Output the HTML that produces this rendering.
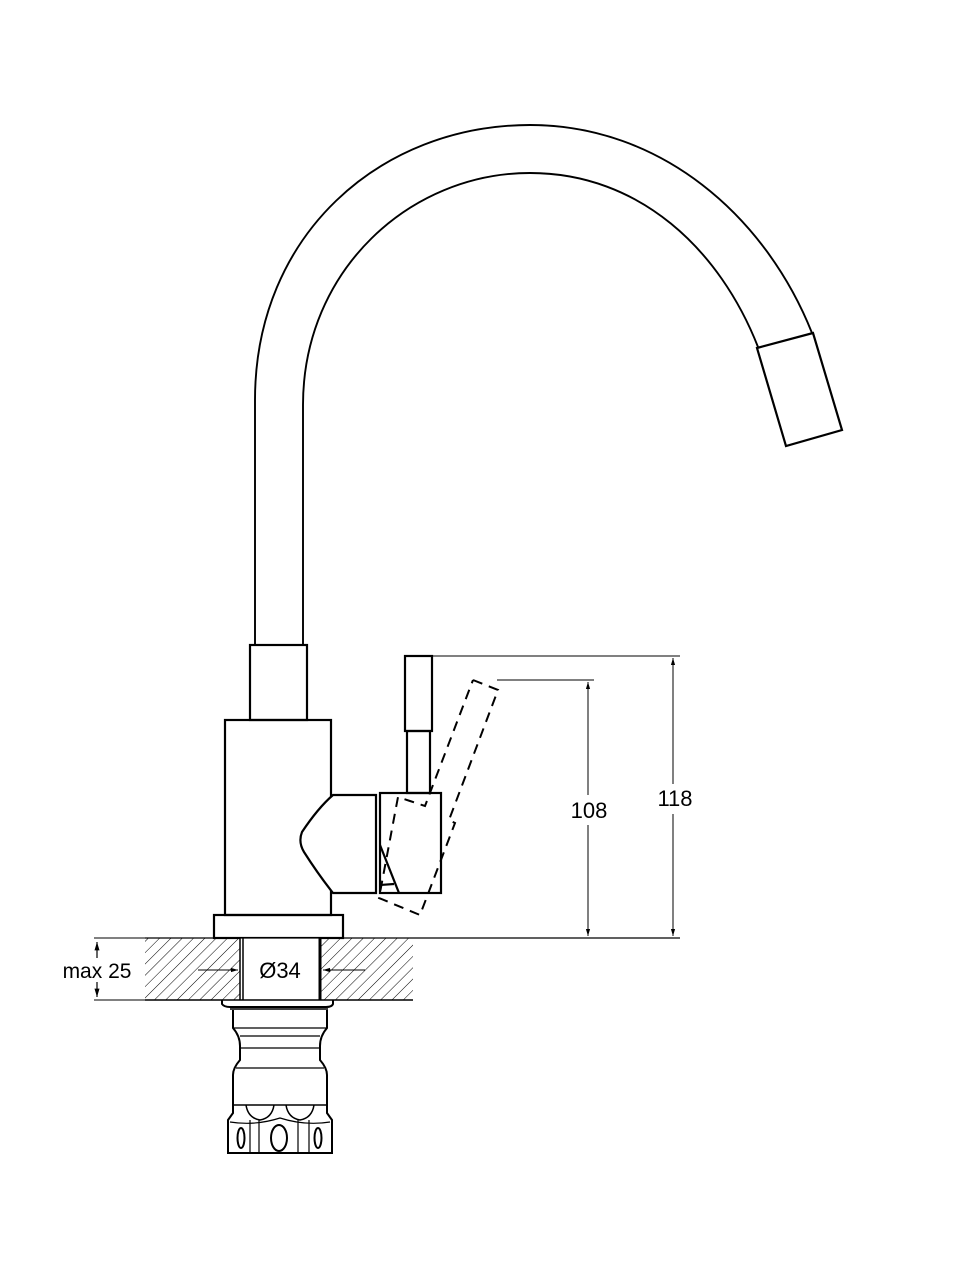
<!DOCTYPE html>
<html><head><meta charset="utf-8"><style>html,body{margin:0;padding:0;background:#fff}svg{display:block}</style></head>
<body>
<svg width="960" height="1280" viewBox="0 0 960 1280" xmlns="http://www.w3.org/2000/svg" font-family="Liberation Sans, Arial, sans-serif">
<defs>
<pattern id="h" patternUnits="userSpaceOnUse" width="8" height="8" patternTransform="rotate(45)">
<line x1="0" y1="0" x2="0" y2="8" stroke="#000" stroke-width="1"/>
</pattern>
<marker id="a" viewBox="0 0 10 10" refX="10" refY="5" markerWidth="7" markerHeight="7" orient="auto-start-reverse"><path d="M0,2 L10,5 L0,8 z" fill="#000"/></marker>
</defs>
<g fill="none" stroke="#000" stroke-width="2.2">
<path d="M255,645 L255,400 C255,235 380,125 530,125 C660,125 765,215 812,333" stroke-width="1.9"/>
<path d="M303,645 L303,405 C303,270 410,173 530,173 C640,173 720,250 758,347" stroke-width="1.9"/>
<polygon points="757,348 813,333 842,430 786,446"/>
<rect x="250" y="645" width="57" height="75"/>
<rect x="225" y="720" width="106" height="195"/>
<rect x="214" y="915" width="129" height="23"/>
<path d="M376,795 L333,795 Q318,808 302,832 Q298,842 304,852 Q318,874 333,893 L376,893 Z" fill="#fff"/>
<rect x="380" y="793" width="61" height="100" fill="#fff"/>
<path d="M380,845 L399,893"/>
<path d="M380,885 L394,884"/>
<rect x="405" y="656" width="27" height="75"/>
<rect x="407" y="731" width="23" height="62"/>
<path d="M473,680 L498,690 L449,820 L455,823 L420,915 L379,898 L398,797 L410,801 L425,806 L473,680" stroke-dasharray="10,7" stroke-width="2"/>
</g>
<rect x="145" y="938" width="268" height="62" fill="url(#h)"/>
<rect x="240" y="938" width="81" height="62" fill="#fff"/>
<g stroke="#000" fill="none">
<line x1="145" y1="938" x2="680" y2="938" stroke-width="1.3"/>
<line x1="145" y1="1000" x2="413" y2="1000" stroke-width="1.6"/>
<line x1="94" y1="938" x2="145" y2="938" stroke-width="1"/>
<line x1="94" y1="1000" x2="145" y2="1000" stroke-width="1"/>
<line x1="240" y1="938" x2="240" y2="1000" stroke-width="1.5"/>
<line x1="243" y1="938" x2="243" y2="1000" stroke-width="1.5"/>
<line x1="320" y1="938" x2="320" y2="1000" stroke-width="3"/>
<line x1="198" y1="970" x2="238" y2="970" stroke-width="1" marker-end="url(#a)"/>
<line x1="365" y1="970" x2="323" y2="970" stroke-width="1" marker-end="url(#a)"/>
<line x1="97" y1="942" x2="97" y2="958" stroke-width="1.2" marker-start="url(#a)"/>
<line x1="97" y1="982" x2="97" y2="997" stroke-width="1.2" marker-end="url(#a)"/>
<line x1="432" y1="656" x2="680" y2="656" stroke-width="1"/>
<line x1="497" y1="680" x2="594" y2="680" stroke-width="1"/>
<line x1="673" y1="658" x2="673" y2="936" stroke-width="1" marker-start="url(#a)" marker-end="url(#a)"/>
<line x1="588" y1="682" x2="588" y2="936" stroke-width="1" marker-start="url(#a)" marker-end="url(#a)"/>
</g>
<rect x="567" y="795" width="42" height="30" fill="#fff"/>
<rect x="652" y="784" width="44" height="30" fill="#fff"/>
<text x="589" y="818" font-size="22" text-anchor="middle">108</text>
<text x="675" y="806" font-size="22" text-anchor="middle">118</text>
<text x="97" y="978" font-size="21" text-anchor="middle" fill="#000">max 25</text>
<text x="280" y="978" font-size="22" text-anchor="middle">Ø34</text>
<g fill="none" stroke="#000" stroke-width="2">
<path d="M222,1000 L222,1004 Q224,1007 230,1007 L326,1007 Q332,1007 333,1004 L333,1000"/>
<line x1="230" y1="1009" x2="328" y2="1009" stroke-width="1.5"/>
<path d="M233,1010 L233,1028 Q240,1036 240,1046 L240,1060 Q233,1068 233,1075 L233,1105 M327,1010 L327,1028 Q320,1036 320,1046 L320,1060 Q327,1068 327,1075 L327,1105"/>
<line x1="234" y1="1028" x2="326" y2="1028" stroke-width="1.2"/>
<line x1="240" y1="1036" x2="320" y2="1036" stroke-width="1.2"/>
<line x1="240" y1="1048" x2="320" y2="1048" stroke-width="1.2"/>
<line x1="236" y1="1068" x2="324" y2="1068" stroke-width="1.2"/>
<line x1="233" y1="1105" x2="327" y2="1105" stroke-width="1.5"/>
<path d="M233,1105 L233,1113 L228,1120 L228,1153 L332,1153 L332,1120 L327,1113 L327,1105"/>
<path d="M246,1105 Q248,1118 260,1120 Q272,1118 274,1105 M286,1105 Q288,1118 300,1120 Q312,1118 314,1105" stroke-width="1.5"/>
<path d="M230,1122 Q255,1126 280,1118 Q305,1126 330,1122" stroke-width="1.2"/>
<line x1="250" y1="1120" x2="250" y2="1153" stroke-width="1.2"/>
<line x1="259" y1="1120" x2="259" y2="1153" stroke-width="1.2"/>
<line x1="298" y1="1120" x2="298" y2="1153" stroke-width="1.2"/>
<line x1="309" y1="1120" x2="309" y2="1153" stroke-width="1.2"/>
<ellipse cx="279" cy="1138" rx="8" ry="13"/>
<ellipse cx="241" cy="1138" rx="3.5" ry="10"/>
<ellipse cx="318" cy="1138" rx="3.5" ry="10"/>
</g>
</svg>
</body></html>
